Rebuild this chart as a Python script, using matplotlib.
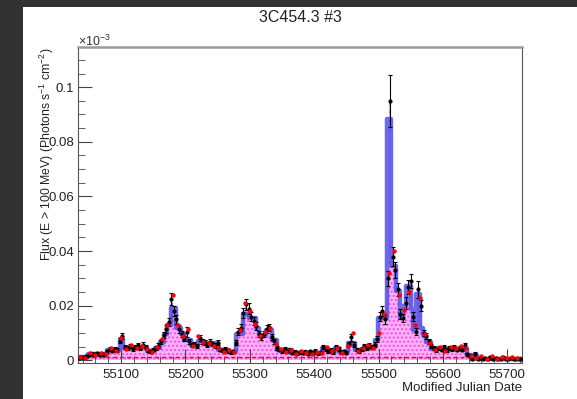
import numpy as np
import matplotlib.pyplot as plt
from matplotlib.patches import Rectangle
from matplotlib.ticker import MultipleLocator, FuncFormatter

plt.rcParams['font.family'] = ['Liberation Sans', 'DejaVu Sans']
plt.rcParams['mathtext.fontset'] = 'custom'
plt.rcParams['mathtext.rm'] = 'Liberation Sans'

# light curve points, flux in units of 1e-6 ph s^-1 cm^-2
t_start, t_step = 55034, 4
flux = [1.0, 1.3, 1.1, 1.5, 2.0, 2.4, 2.1, 2.6, 2.2, 2.5, 2.0, 3.4, 4.1, 3.6, 4.3, 3.8,
        7.2, 9.0, 5.0, 4.6, 5.3, 4.2, 4.8, 5.5, 4.4, 5.8, 4.9, 3.6, 3.2, 3.9, 4.7, 5.4,
        7.0, 9.2, 11.5, 14.0, 22.5, 18.0, 15.0, 11.5, 9.8, 8.0, 10.5, 7.0, 5.6, 6.0, 5.2, 8.2,
        7.0, 6.5, 5.8, 6.8, 6.1, 5.5, 6.4, 4.0, 3.6, 4.3, 3.5, 3.0, 3.3, 6.5, 10.5, 12.0,
        17.5, 20.5, 19.0, 16.0, 14.5, 12.5, 9.8, 8.5, 9.5, 11.5, 12.2, 8.5, 7.0, 4.5, 3.9, 3.5,
        4.1, 3.4, 3.8, 2.9, 3.2, 2.6, 3.0, 2.7, 3.1, 2.5, 3.3, 2.8, 3.5, 2.6, 3.0, 4.8,
        4.3, 3.4, 3.8, 3.1, 4.9, 4.2, 3.0, 3.3, 2.8, 6.0, 8.5, 5.8, 3.9, 3.5, 4.2, 5.2,
        4.6, 5.5, 4.9, 5.8, 7.8, 16.0, 18.0, 15.0, 30.0, 95.0, 38.0, 33.0, 26.0, 17.0, 15.5, 21.0,
        27.0, 29.0, 16.0, 10.5, 26.0, 20.0, 10.0, 8.8, 7.0, 5.2, 4.4, 3.8, 4.6, 4.0, 4.8, 3.7,
        4.5, 4.1, 5.0, 3.9, 4.4, 4.0, 5.5, 2.3, 1.8, 0.6, 2.4, 0.5, 0.8, 0.4, 1.0, 0.6,
        1.3, 0.5, 0.9, 0.4, 0.7, 1.1, 0.5, 0.6, 0.9, 0.4, 0.7, 0.5, 0.6]
flux_err = [0.5, 0.5, 0.4, 0.5, 0.5, 0.6, 0.5, 0.6, 0.5, 0.6, 0.5, 0.6, 0.7, 0.6, 0.7, 0.6,
            0.9, 1.0, 0.7, 0.7, 0.7, 0.6, 0.7, 0.8, 0.7, 0.8, 0.7, 0.6, 0.6, 0.6, 0.7, 0.8,
            0.9, 1.1, 1.3, 1.5, 2.2, 1.8, 1.6, 1.3, 1.1, 1.0, 1.8, 0.9, 0.8, 0.8, 0.7, 1.0,
            0.9, 0.9, 0.8, 0.9, 0.8, 0.8, 0.9, 0.6, 0.6, 0.7, 0.6, 0.5, 0.6, 0.9, 1.2, 1.3,
            1.8, 2.0, 1.9, 1.7, 1.5, 1.4, 1.1, 1.0, 1.1, 1.3, 1.3, 1.0, 0.9, 0.7, 0.6, 0.6,
            0.7, 0.6, 0.6, 0.5, 0.6, 0.5, 0.5, 0.5, 0.6, 0.5, 0.6, 0.5, 0.6, 0.5, 0.5, 0.7,
            0.7, 0.6, 0.6, 0.6, 0.7, 0.7, 0.5, 0.6, 0.5, 0.8, 1.3, 0.8, 0.6, 0.6, 0.7, 0.7,
            0.7, 0.8, 0.7, 0.8, 1.0, 1.7, 1.9, 1.6, 2.8, 9.5, 3.4, 3.0, 2.5, 1.8, 1.6, 2.1,
            2.6, 2.6, 1.7, 1.2, 3.0, 2.0, 1.2, 1.1, 0.9, 0.8, 0.7, 0.6, 0.7, 0.6, 0.7, 0.6,
            0.7, 0.6, 0.7, 0.6, 0.7, 0.6, 0.9, 0.5, 0.5, 0.4, 0.6, 0.3, 0.4, 0.3, 0.4, 0.3,
            0.5, 0.3, 0.4, 0.3, 0.3, 0.4, 0.3, 0.3, 0.4, 0.3, 0.3, 0.3, 0.3]

# second binning (red points)
red_start, red_step = 55036, 8
red_flux = [1.4, 1.0, 2.6, 2.0, 2.8, 2.3, 4.4, 3.3, 8.3, 4.2, 5.6, 4.6, 5.1, 4.1, 3.0, 5.0,
            8.0, 13.0, 24.0, 13.0, 9.0, 11.5, 5.2, 8.8, 6.8, 6.2, 5.4, 4.4, 3.2, 3.9, 3.0, 11.0,
            21.0, 18.0, 13.5, 9.0, 10.5, 11.8, 6.0, 4.3, 3.0, 4.0, 2.4, 3.4, 2.9, 2.3, 3.2, 2.7,
            5.0, 3.6, 4.4, 2.6, 5.4, 10.0, 3.3, 4.6, 5.8, 4.7, 10.0, 17.0, 32.0, 40.0, 24.0, 18.5,
            25.0, 13.0, 23.0, 9.5, 6.2, 4.0, 5.0, 3.6, 4.9, 4.4, 5.2, 4.6, 1.5, 0.9, 1.5, 0.6,
            1.8, 0.7, 1.4, 0.8, 1.2, 0.9]

# Bayesian blocks
block_edges = [55033, 55048, 55078, 55098, 55103, 55140, 55152, 55161, 55166, 55172, 55177,
               55186, 55193, 55197, 55208, 55219, 55229, 55251, 55268, 55279, 55290, 55298,
               55310, 55315, 55325, 55334, 55342, 55365, 55412, 55420, 55433, 55439, 55452,
               55464, 55478, 55494, 55499, 55513, 55519, 55527, 55533, 55538, 55543, 55551,
               55554, 55558, 55565, 55569, 55574, 55582, 55637, 55645, 55648, 55653, 55723]
block_flux = [1.2, 2.2, 3.7, 8.0, 4.5, 3.5, 4.5, 6.7, 9.6, 13.0, 19.3, 12.0, 9.5, 7.4, 5.6,
              7.0, 6.2, 3.8, 3.1, 9.8, 17.0, 15.7, 12.0, 9.2, 11.0, 7.4, 3.8, 2.9, 4.5, 3.5,
              4.5, 3.1, 6.3, 3.8, 5.0, 7.4, 15.5, 88.3, 34.4, 25.4, 15.7, 20.0, 27.2, 19.0,
              11.0, 24.3, 11.7, 9.2, 6.7, 4.2, 2.0, 0.5, 2.0, 0.4]

baseline_flux = 1.2

t = t_start + t_step * np.arange(len(flux))
t_red = red_start + red_step * np.arange(len(red_flux))
scale = 1e-3  # axis shown in units of 1e-3
y = np.array(flux) * scale
yerr = np.array(flux_err) * scale
y_red = np.array(red_flux) * scale
y_blk = np.array(block_flux + [block_flux[-1]]) * scale

fig = plt.figure(figsize=(5.77, 3.99), dpi=100, facecolor='#323232')
fig.add_artist(Rectangle((23 / 577, 0), 1, 392 / 399, transform=fig.transFigure,
                         facecolor='white', edgecolor='none', zorder=0))
ax = fig.add_axes([78 / 577, 1 - 363 / 399, 444 / 577, 316 / 399])

# pink histogram
ax.fill_between(t, y, step='mid', facecolor='#ffb0f8', edgecolor='#f050e8',
                hatch='....', linewidth=0, zorder=1)
ax.axhline(baseline_flux * scale, color='red', lw=1, ls=(0, (3, 2)), zorder=2)

# blocks
ax.step(block_edges, y_blk, where='post', color='#5050e8', lw=3.2, alpha=0.85, zorder=3)

# points
ax.errorbar(t, y, yerr=yerr, fmt='o', ms=2, color='black', ecolor='black',
            elinewidth=0.8, capsize=1.5, capthick=0.8, zorder=4)
ax.plot(t_red, y_red, 'o', ms=2.2, color='red', zorder=5)

ax.set_xlim(55033, 55723)
ax.set_ylim(-0.00094, 0.1147)

ax.xaxis.set_major_locator(MultipleLocator(100))
ax.xaxis.set_minor_locator(MultipleLocator(20))
ax.yaxis.set_major_locator(MultipleLocator(0.02))
ax.yaxis.set_minor_locator(MultipleLocator(0.005))
ax.yaxis.set_major_formatter(FuncFormatter(lambda v, p: '%g' % round(v, 3)))
ax.tick_params(which='both', direction='in', labelsize=9.5, color='#444444',
               labelcolor='#222222', top=False, right=False)
ax.tick_params(which='major', length=10)
ax.tick_params(which='minor', length=5)
ax.tick_params(axis='x', pad=4)
ax.tick_params(axis='y', pad=3)

for s in ['left', 'bottom', 'right']:
    ax.spines[s].set_color('#555555')
ax.spines['top'].set_color('#9a9a9a')
ax.spines['top'].set_linewidth(1.8)

fig.text(300 / 577, 1 - 18 / 399, '3C454.3 #3', ha='center', va='center',
         fontsize=11.5, color='#222222')
ax.set_xlabel('Modified Julian Date', fontsize=9.5, color='#222222', loc='right', labelpad=1)
fig.text(47 / 577, 1 - 48 / 399, r'Flux (E > 100 MeV) (Photons s$^{-1}$ cm$^{-2}$)',
         rotation=90, ha='center', va='top', fontsize=8.8, color='#222222')
fig.text(78 / 577, 1 - 41 / 399, r'$\times$10$^{-3}$', ha='left', va='center',
         fontsize=9, color='#333333')

fig.savefig('out.png', dpi=100, facecolor=fig.get_facecolor())
